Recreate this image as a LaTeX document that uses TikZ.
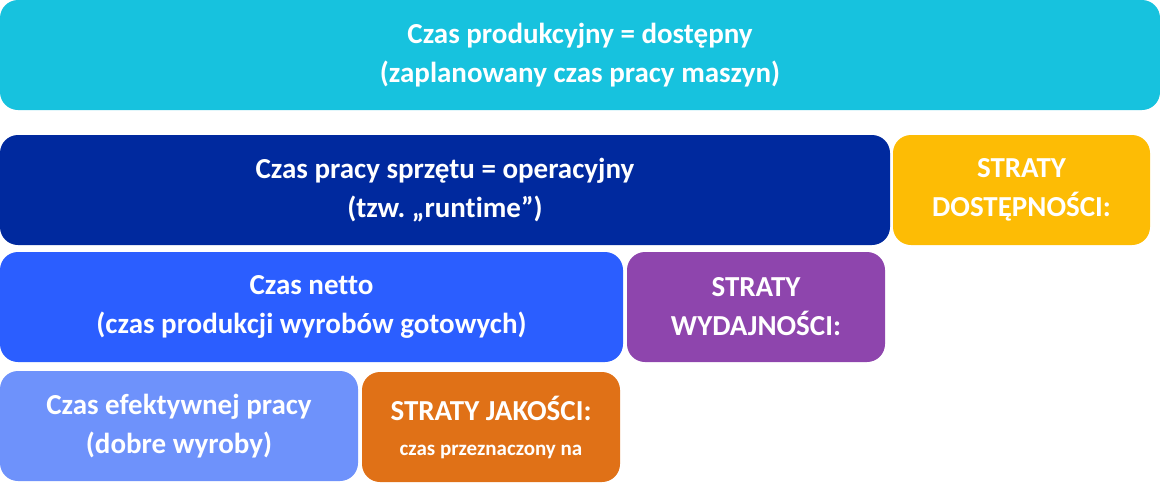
\documentclass[tikz,border=0pt]{standalone}
\usepackage{fontspec}
\setmainfont{Carlito}[Ligatures=NoCommon]
\frenchspacing
\definecolor{ccyan}{HTML}{17C2DE}
\definecolor{cdark}{HTML}{00299E}
\definecolor{cblue}{HTML}{2B5EFF}
\definecolor{clight}{HTML}{6E92FB}
\definecolor{cyell}{HTML}{FDBC05}
\definecolor{cpurp}{HTML}{8E45AD}
\definecolor{corng}{HTML}{E07117}
\tikzset{
  box/.style={inner sep=0pt, text=white, align=center,
    font=\fontsize{29}{39}\selectfont\bfseries},
}
\newcommand{\bx}[7]{% name, x1, y1, x2, y2, color, text
  \fill[#6, rounded corners=18pt] (#2pt,-#3pt) rectangle (#4pt,-#5pt);
  \node[box] (#1) at ({(#2+#4)/2*1pt},{-(#3+#5)/2*1pt}) {#7};
}
\begin{document}
\begin{tikzpicture}[x=1pt,y=1pt]
\useasboundingbox (0,0) rectangle (1160,-483);
\bx{top}{0}{0}{1160}{110}{ccyan}{Czas produkcyjny = dostępny\\(zaplanowany czas pracy maszyn)}
\bx{oper}{0}{135}{890}{245}{cdark}{Czas pracy sprzętu = operacyjny\\(tzw.\ „runtime”)}
\bx{dost}{893}{135}{1150}{245}{cyell}{STRATY\\DOSTĘPNOŚCI:}
\bx{netto}{0}{252}{623}{362}{cblue}{Czas netto\\(czas produkcji wyrobów gotowych)}
\bx{wyd}{627}{252}{885}{362}{cpurp}{STRATY\\WYDAJNOŚCI:}
\bx{efekt}{0}{371}{358}{481}{clight}{Czas efektywnej pracy\\(dobre wyroby)}
\bx{jak}{362}{372}{620}{482}{corng}{STRATY JAKOŚCI:\\[-4pt]{\fontsize{21}{25}\selectfont czas przeznaczony na}}
\end{tikzpicture}
\end{document}
